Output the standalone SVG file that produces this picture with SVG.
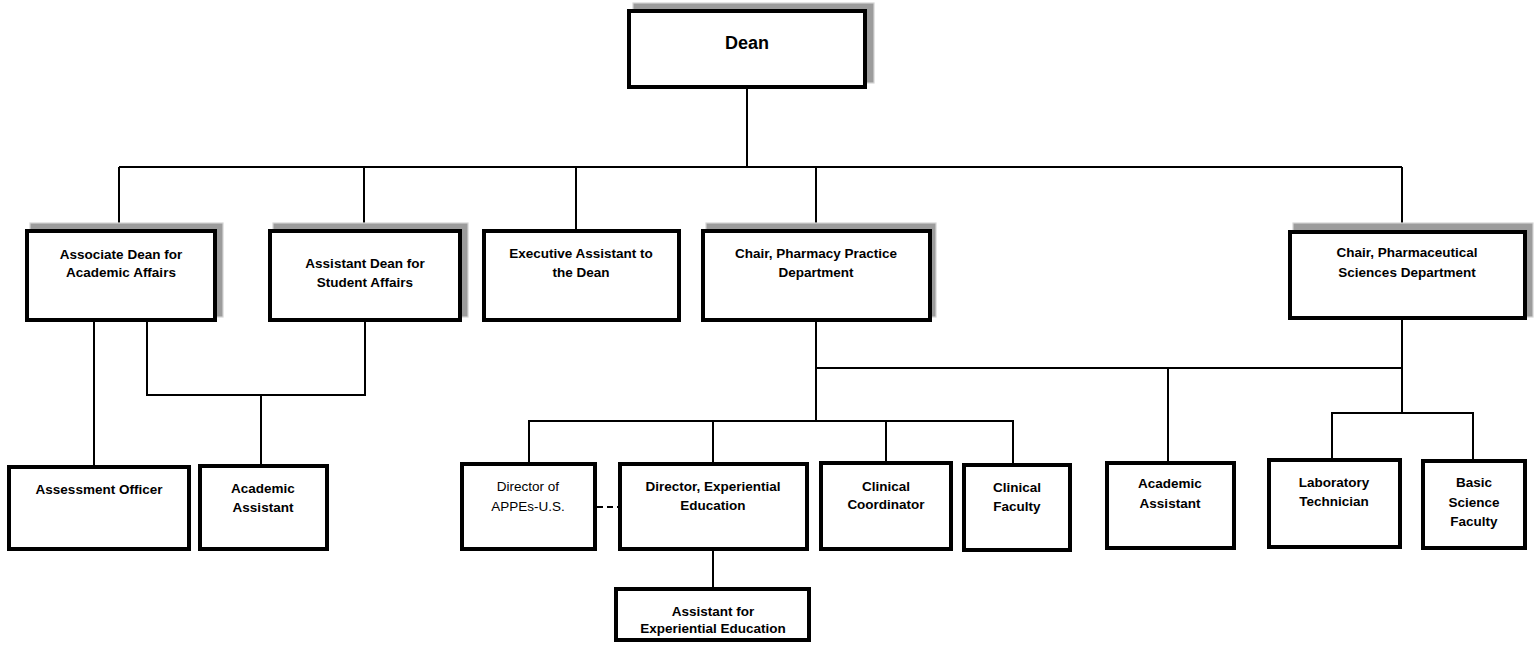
<svg xmlns="http://www.w3.org/2000/svg" width="1535" height="653" viewBox="0 0 1535 653">
<style>
.bg{fill:#fff}
.box{fill:#fff;stroke:#000;stroke-width:4}
.sh{fill:#9c9c9c;stroke:#d4d4d4;stroke-width:1.2}
.t{font-family:"Liberation Sans",Arial,sans-serif;font-weight:bold;font-size:13.5px;text-anchor:middle;fill:#000}
.r{font-weight:normal}
.big{font-size:18px}
.ln{stroke:#000;stroke-width:2;fill:none}
.dash{stroke-dasharray:6,4}
</style>
<rect class="bg" x="0" y="0" width="1535" height="653"/>
<g id="connectors">
<path class="ln" d="M747 89V167M119 167H1402M119 167V229M364 167V229M576 167V229M816 167V229M1402 167V230"/>
<path class="ln" d="M94 322V465M147 322V395H365V322M261 395V464"/>
<path class="ln" d="M816 322V421M816 368H1402M1402 320V413M1168 368V461"/>
<path class="ln" d="M529 462V421H1013V463M713 421V462M886 421V461"/>
<path class="ln" d="M1332 458V413H1473V459"/>
<path class="ln" d="M713 551V587"/>
<path class="ln dash" d="M597 507H618"/>
</g>
<g id="dean">
<rect class="sh" x="633" y="3" width="241" height="80"/>
<rect class="box" x="629" y="11" width="236" height="76"/>
<text class="t big" x="747" y="49">Dean</text>
</g>
<g id="assoc-dean">
<rect class="sh" x="30" y="223" width="193" height="94"/>
<rect class="box" x="27" y="231" width="188" height="89"/>
<text class="t" x="121" y="259">Associate Dean for</text>
<text class="t" x="121" y="277">Academic Affairs</text>
</g>
<g id="asst-dean">
<rect class="sh" x="273" y="223" width="195" height="94"/>
<rect class="box" x="270" y="231" width="190" height="89"/>
<text class="t" x="365" y="268">Assistant Dean for</text>
<text class="t" x="365" y="287">Student Affairs</text>
</g>
<g id="exec-asst">
<rect class="box" x="484" y="231" width="195" height="89"/>
<text class="t" x="581" y="258">Executive Assistant to</text>
<text class="t" x="581" y="277">the Dean</text>
</g>
<g id="chair-pp">
<rect class="sh" x="706" y="223" width="230" height="94"/>
<rect class="box" x="703" y="231" width="227" height="89"/>
<text class="t" x="816" y="258">Chair, Pharmacy Practice</text>
<text class="t" x="816" y="277">Department</text>
</g>
<g id="chair-ps">
<rect class="sh" x="1293" y="223" width="240" height="94"/>
<rect class="box" x="1290" y="232" width="235" height="86"/>
<text class="t" x="1407" y="257">Chair, Pharmaceutical</text>
<text class="t" x="1407" y="277">Sciences Department</text>
</g>
<g id="assessment">
<rect class="box" x="9" y="467" width="180" height="82"/>
<text class="t" x="99" y="494">Assessment Officer</text>
</g>
<g id="acad-asst-left">
<rect class="box" x="200" y="466" width="127" height="83"/>
<text class="t" x="263" y="493">Academic</text>
<text class="t" x="263" y="512">Assistant</text>
</g>
<g id="dir-appes">
<rect class="box" x="462" y="464" width="133" height="85"/>
<text class="t r" x="528" y="491">Director of</text>
<text class="t r" x="528" y="511">APPEs-U.S.</text>
</g>
<g id="dir-ee">
<rect class="box" x="620" y="464" width="187" height="85"/>
<text class="t" x="713" y="491">Director, Experiential</text>
<text class="t" x="713" y="510">Education</text>
</g>
<g id="clin-coord">
<rect class="box" x="821" y="463" width="130" height="86"/>
<text class="t" x="886" y="491">Clinical</text>
<text class="t" x="886" y="509">Coordinator</text>
</g>
<g id="clin-fac">
<rect class="box" x="964" y="465" width="106" height="85"/>
<text class="t" x="1017" y="492">Clinical</text>
<text class="t" x="1017" y="511">Faculty</text>
</g>
<g id="acad-asst-right">
<rect class="box" x="1107" y="463" width="127" height="85"/>
<text class="t" x="1170" y="488">Academic</text>
<text class="t" x="1170" y="508">Assistant</text>
</g>
<g id="lab-tech">
<rect class="box" x="1269" y="460" width="131" height="87"/>
<text class="t" x="1334" y="487">Laboratory</text>
<text class="t" x="1334" y="506">Technician</text>
</g>
<g id="basic-sci">
<rect class="box" x="1423" y="461" width="102" height="87"/>
<text class="t" x="1474" y="487">Basic</text>
<text class="t" x="1474" y="507">Science</text>
<text class="t" x="1474" y="526">Faculty</text>
</g>
<g id="asst-ee">
<rect class="box" x="616" y="589" width="193" height="51"/>
<text class="t" x="713" y="616">Assistant for</text>
<text class="t" x="713" y="633">Experiential Education</text>
</g>
</svg>
